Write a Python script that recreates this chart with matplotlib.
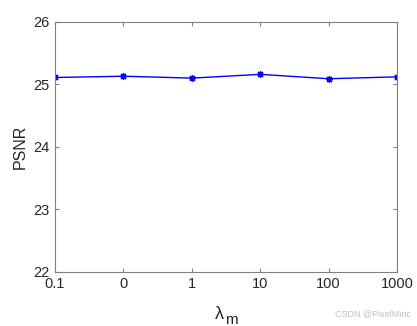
import matplotlib
matplotlib.use("Agg")
import matplotlib.pyplot as plt

# ---------- Data ----------
lambda_labels = ['0.1', '0', '1', '10', '100', '1000']
psnr = [25.11, 25.13, 25.10, 25.16, 25.09, 25.12]
yticks = [22, 23, 24, 25, 26]

plt.rcParams['font.family'] = ['Liberation Sans', 'DejaVu Sans']

fig = plt.figure(figsize=(4.17, 3.26), dpi=100)
ax = fig.add_axes([0.132, 0.166, 0.820, 0.767])

x = list(range(len(lambda_labels)))
# MATLAB-style asterisk marker
ax.plot(x, psnr, color='blue', marker=(8, 2, 0), markersize=5,
        markeredgewidth=0.9, linewidth=1)

ax.set_xlim(0, len(x) - 1)
ax.set_ylim(22, 26)
ax.set_xticks(x)
ax.set_xticklabels(lambda_labels)
ax.set_yticks(yticks)

ax.tick_params(direction='in', top=True, right=True, labelsize=10.5,
               color='#808080', labelcolor='#262626', length=3, width=0.8, pad=4)
for s in ax.spines.values():
    s.set_color('#808080')
    s.set_linewidth(0.8)

ax.set_ylabel('PSNR', fontsize=11.5, color='#262626')
# x label: lambda with subscript m (MATLAB tex style)
ax.text(0.481, -0.136, 'λ', transform=ax.transAxes, fontsize=13,
        color='#262626', va='top', ha='center')
ax.text(0.497, -0.163, 'm', transform=ax.transAxes, fontsize=11,
        color='#262626', va='top', ha='left')

fig.text(0.985, 0.03, 'CSDN @PixelMinc', color='#c0c0c0', fontsize=6.5, ha='right')

fig.savefig('out.png', dpi=100)
